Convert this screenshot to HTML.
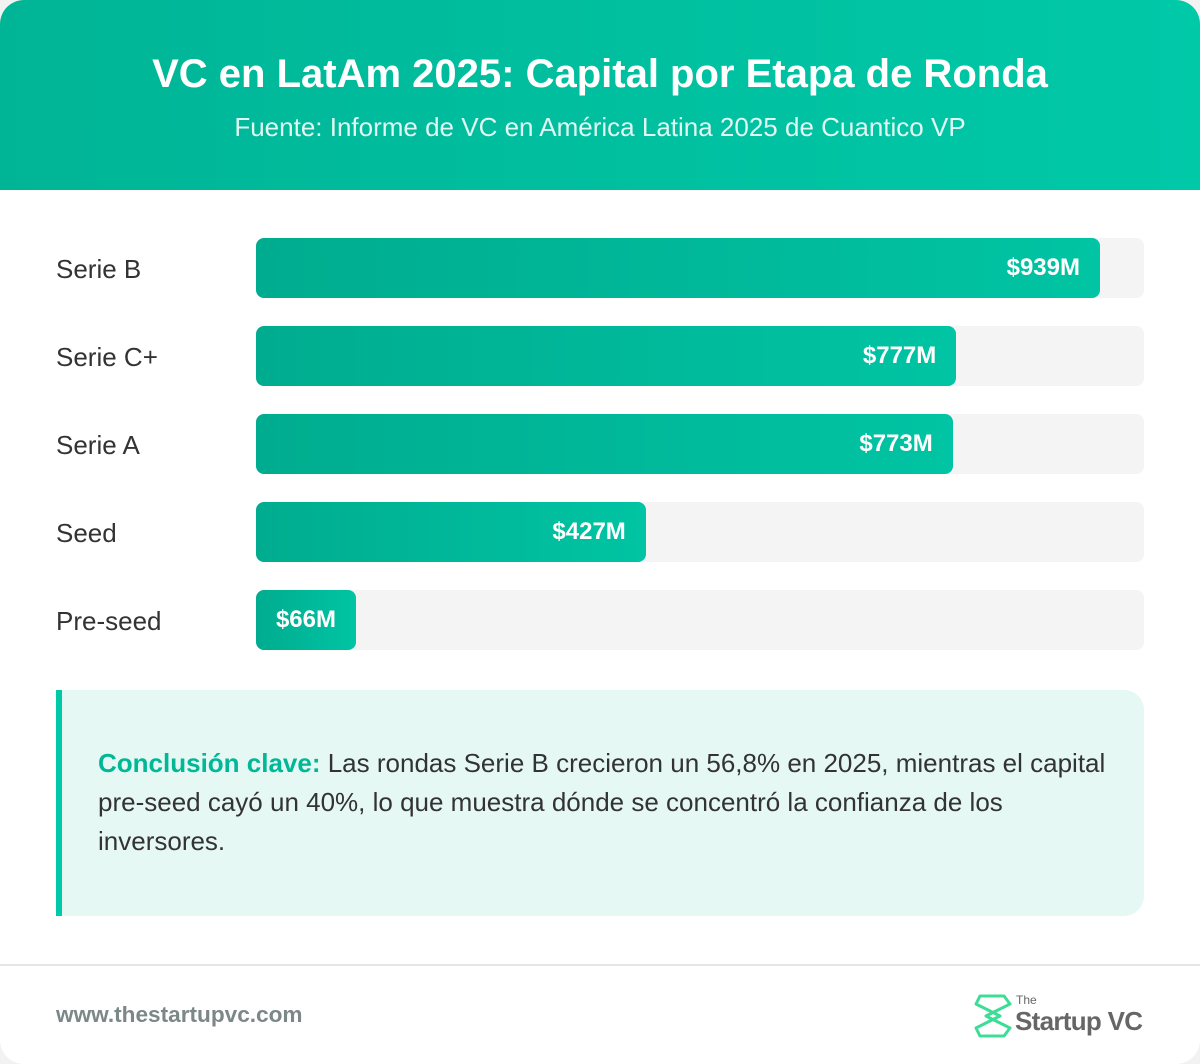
<!DOCTYPE html>
<html><head><meta charset="utf-8"><style>
*{margin:0;padding:0;box-sizing:border-box}
body{width:1200px;height:1064px;background:#f2f2f2;font-family:"Liberation Sans",sans-serif;overflow:hidden}
.card{position:absolute;left:0;top:0;width:1200px;height:1064px;background:#fff;border-radius:24px;overflow:hidden}
.header{height:190px;background:linear-gradient(90deg,#00b596,#00c9a8);text-align:center;color:#fff}
.header h1{font-size:40px;font-weight:bold;padding-top:51px;line-height:46px}
.header p{font-size:26px;color:#e0f7f2;margin-top:12px;line-height:36px}
.row{position:absolute;left:0;width:1200px;height:60px}
.label{position:absolute;left:56px;top:0;line-height:62px;font-size:26px;color:#333}
.track{position:absolute;left:256px;top:0;width:888px;height:60px;background:#f4f4f4;border-radius:8px}
.bar{position:absolute;left:0;top:0;height:60px;border-radius:8px;background:linear-gradient(90deg,#00ac8f,#00c4a3);color:#fff;font-weight:bold;font-size:24px;text-align:right;padding-right:20px;line-height:60px;white-space:nowrap}
.note{position:absolute;left:56px;top:690px;width:1088px;height:226px;background:#e5f8f3;border-left:6px solid #00c9a8;border-radius:0 20px 20px 0;padding:54px 30px 0 36px;font-size:26px;line-height:39px;color:#333}
.note b{color:#00b896}
.footer{position:absolute;left:0;top:964px;width:1200px;height:100px;border-top:2px solid #e6e6e6}
.url{position:absolute;left:56px;top:36px;font-size:22.6px;font-weight:bold;color:#7c8787}
</style></head><body>
<div class="card">
<div class="header">
<h1>VC en LatAm 2025: Capital por Etapa de Ronda</h1>
<p>Fuente: Informe de VC en América Latina 2025 de Cuantico VP</p>
</div>
<div id="bars"></div>
<div class="note"><b>Conclusión clave:</b> Las rondas Serie B crecieron un 56,8% en 2025, mientras el capital pre-seed cayó un 40%, lo que muestra dónde se concentró la confianza de los inversores.</div>
<div class="footer">
<div class="url">www.thestartupvc.com</div>
<svg style="position:absolute;left:974px;top:26px" width="180" height="46">
<g fill="none" stroke="#3ddc97" stroke-width="3" stroke-linejoin="round">
<path d="M6 4 H30 L36 12 L12 24 L36 36 L30 44 H6 L2 36 L26 24 L2 12 Z"/>
</g>
<text x="42" y="12" font-family="Liberation Sans,sans-serif" font-size="12" fill="#666">The</text>
<text x="41" y="38" font-family="Liberation Sans,sans-serif" font-size="26" font-weight="bold" fill="#666" textLength="128">Startup VC</text>
</svg>
</div>
</div>
<script>
const categories=["Serie B","Serie C+","Serie A","Seed","Pre-seed"];
const values=[939,777,773,427,66];
const labels=["$939M","$777M","$773M","$427M","$66M"];
const maxV=Math.max(...values);
function xScale(v){return 11+v/maxV*833;}
const c=document.getElementById('bars');
categories.forEach((cat,i)=>{
 const row=document.createElement('div');row.className='row';row.style.top=(238+i*88)+'px';
 
 
 const l=document.createElement('div');l.className='label';l.textContent=cat;
 
 
 const t=document.createElement('div');t.className='track';
 
 
 const b=document.createElement('div');b.className='bar';
 b.style.width=Math.max(100,xScale(values[i]))+'px';
 b.textContent=labels[i];
 
 
 t.appendChild(b);row.appendChild(l);row.appendChild(t);c.appendChild(row);
});
</script>
</body></html>
